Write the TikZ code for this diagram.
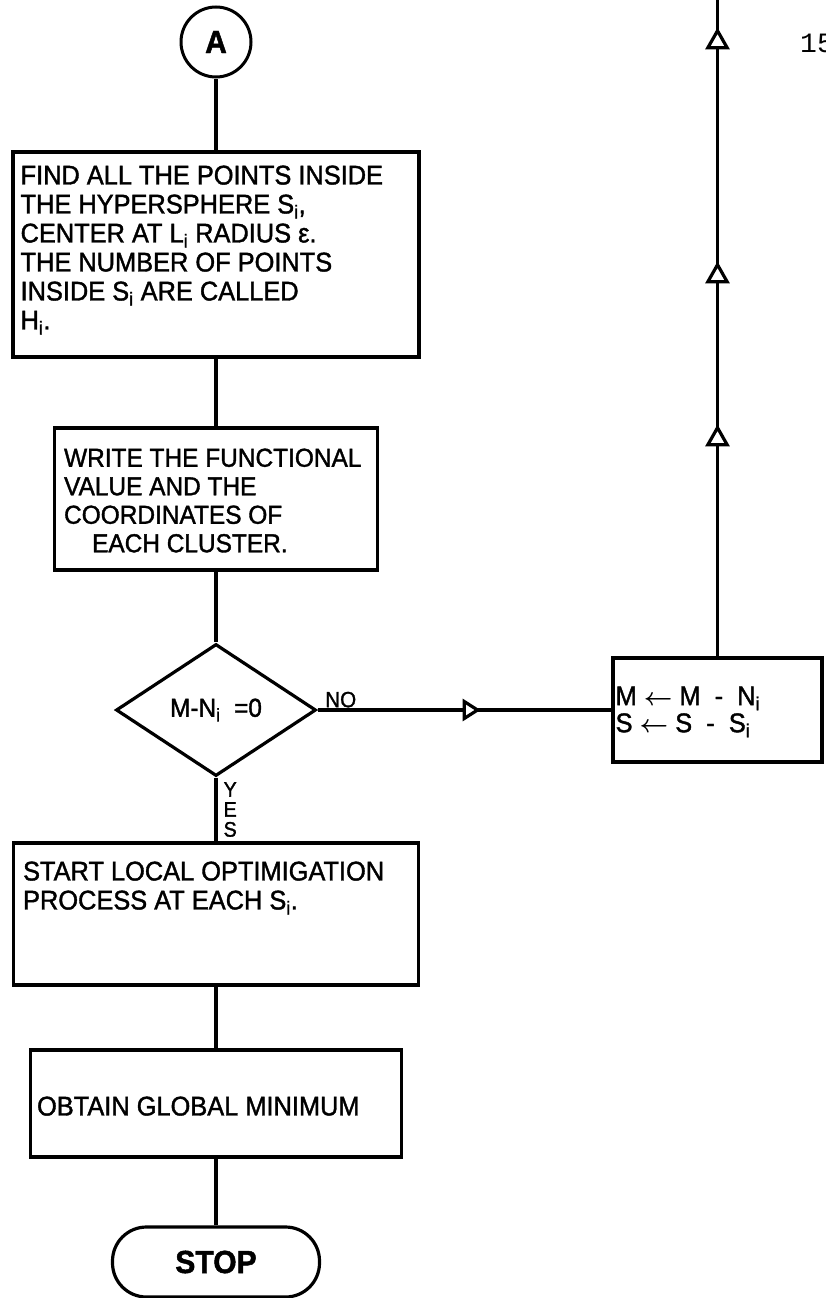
\documentclass[tikz,border=0pt]{standalone}
\usepackage{fontspec}
\setmainfont{Liberation Sans}[FakeStretch=0.94, FakeBold=1.4]
\newfontfamily\pagefont{Liberation Mono}
\usepackage{tikz}
\usetikzlibrary{shapes.geometric, arrows.meta, positioning, decorations.markings}
\newcommand{\ix}{\textsubscript{i}}
\newcommand{\assignto}{{\boldmath$\leftarrow$}}

\tikzset{
  procbox/.style={draw, line width=3.2pt, inner sep=0pt},
  flowtext/.style={inner sep=0pt, align=left, font=\fontsize{27}{29}\selectfont},
  decide/.style={diamond, draw, line width=3.2pt, aspect=1.5, inner sep=1pt, font=\fontsize{26}{26}\selectfont},
  conn/.style={line width=3.2pt},
}

\begin{document}
\begin{tikzpicture}[x=1pt, y=-1pt]
  \useasboundingbox (0,0) rectangle (826,1298);
  % main column
  \node[circle, draw, line width=3pt, minimum size=70pt, inner sep=0pt, font=\fontsize{32}{32}\selectfont\bfseries] (conA) at (216,42) {A};
  \node[procbox, minimum width=406pt, minimum height=205pt] (find) at (216,254.5) {};
  \node[flowtext, below right=15pt and 9pt of find.north west] (findtext)
    {FIND ALL THE POINTS INSIDE\\THE HYPERSPHERE S\ix,\\CENTER AT L\ix{} RADIUS ε.\\THE NUMBER OF POINTS\\INSIDE S\ix{} ARE CALLED\\H\ix.};
  \node[procbox, minimum width=323pt, minimum height=142pt] (write) at (216,499) {};
  \node[flowtext, font=\fontsize{26}{28.5}\selectfont, below right=22pt and 11pt of write.north west] (writetext)
    {WRITE THE FUNCTIONAL\\VALUE AND THE\\COORDINATES OF\\\hspace*{28pt}EACH CLUSTER.};
  \node[decide, minimum width=200pt, minimum height=132pt] (test) at (216,710) {M-N\ix\ \ =0};
  \node[procbox, minimum width=405pt, minimum height=142pt] (opt) at (216,914) {};
  \node[flowtext, below right=20pt and 11pt of opt.north west] (opttext)
    {START LOCAL OPTIMIGATION\\PROCESS AT EACH S\ix.};
  \node[procbox, minimum width=371pt, minimum height=107pt] (glob) at (216,1103.5) {};
  \node[flowtext, below right=48pt and 8pt of glob.north west] (globtext) {OBTAIN GLOBAL MINIMUM};
  \node[draw, line width=3.2pt, rounded corners=34pt, minimum width=207pt, minimum height=70pt,
        font=\fontsize{32}{32}\selectfont\bfseries] (stop) at (216,1262) {STOP};
  % update branch
  \node[procbox, minimum width=209pt, minimum height=104pt] (upd) at (717.5,710) {};
  \node[flowtext, font=\fontsize{27}{27}\selectfont, below right=30pt and 4pt of upd.north west] (updtext)
    {M\ \assignto\ M\ \ -\ \ N\ix\\S\ \assignto\ S\ \ -\ \ S\ix};
  \coordinate (topend) at (717.5,0);
  \node[font=\pagefont\fontsize{28}{28}\selectfont, anchor=west, inner sep=0pt] (pagenum) at (800,43) {15};

  \draw[conn] (conA) -- (find);
  \draw[conn] (find) -- (write);
  \draw[conn] (write) -- (test);
  \draw[conn] (test) -- node[right, xshift=6pt, inner sep=0pt, align=center,
        font=\fontsize{21}{20}\selectfont] (yes) {Y\\E\\S} (opt);
  \draw[conn] (opt) -- (glob);
  \draw[conn] (glob) -- (stop);
  \draw[conn, postaction={decorate}, decoration={markings,
        mark=at position 163pt with {\arrow{Triangle[fill=white, length=18pt, width=22pt]}}}]
    (test) -- node[pos=0, anchor=south west, xshift=5pt, inner sep=1pt,
        font=\fontsize{22}{22}\selectfont] (no) {NO} (upd);
  \draw[conn, postaction={decorate}, decoration={markings,
        mark=at position 232pt with {\arrow{Triangle[fill=white, length=22pt, width=24pt]}},
        mark=at position 395pt with {\arrow{Triangle[fill=white, length=22pt, width=24pt]}},
        mark=at position 629pt with {\arrow{Triangle[fill=white, length=22pt, width=24pt]}}}]
    (upd) -- (topend);
\end{tikzpicture}
\end{document}
